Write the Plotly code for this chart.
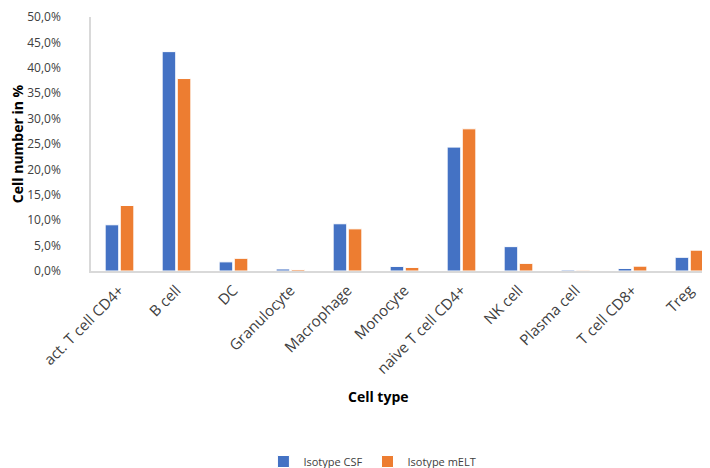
import plotly.graph_objects as go

categories = ["act. T cell CD4+", "B cell", "DC", "Granulocyte", "Macrophage", "Monocyte",
              "naive T cell CD4+", "NK cell", "Plasma cell", "T cell CD8+", "Treg"]
isotype_csf = [9.1, 43.2, 1.8, 0.4, 9.3, 0.9, 24.4, 4.8, 0.2, 0.5, 2.7]
isotype_melt = [12.9, 37.9, 2.5, 0.3, 8.3, 0.7, 28.0, 1.5, 0.15, 0.95, 4.1]
y_ticks = [0, 5, 10, 15, 20, 25, 30, 35, 40, 45, 50]
y_tick_labels = ["0,0%", "5,0%", "10,0%", "15,0%", "20,0%", "25,0%",
                 "30,0%", "35,0%", "40,0%", "45,0%", "50,0%"]

font_family = "Open Sans, Liberation Sans, Arial, sans-serif"

fig = go.Figure()
fig.add_trace(go.Bar(x=categories, y=isotype_csf, name="Isotype CSF",
                     marker=dict(color="#4472C4", line=dict(color="white", width=1))))
fig.add_trace(go.Bar(x=categories, y=isotype_melt, name="Isotype mELT",
                     marker=dict(color="#ED7D31", line=dict(color="white", width=1))))

fig.update_layout(
    width=710, height=468,
    margin=dict(l=83, r=0, t=9, b=200),
    paper_bgcolor="white", plot_bgcolor="white",
    barmode="group", bargap=0.47, bargroupgap=0.1,
    font=dict(family=font_family, color="#404040"),
    showlegend=True,
    legend=dict(orientation="h", x=0.275, y=-0.75, xanchor="left", yanchor="middle",
                font=dict(size=11, color="#404040"), itemwidth=30, traceorder="normal"),
    xaxis=dict(showline=True, linecolor="#d9d9d9", linewidth=1.5, showgrid=False,
               tickangle=-45, tickfont=dict(size=15, color="#404040"),
               ticklabelstandoff=3, ticks="", automargin=False),
    yaxis=dict(range=[0, 50.02], tickmode="array", tickvals=y_ticks, ticktext=y_tick_labels,
               showline=True, linecolor="#d9d9d9", linewidth=1.5, showgrid=False,
               zeroline=False, tickfont=dict(size=12, color="#404040"),
               ticklabeloverflow="allow", automargin=False,
               ticks="outside", ticklen=26, tickcolor="rgba(0,0,0,0)",
               title=dict(text="<b>Cell number in %</b>", font=dict(size=14, color="black"),
                          standoff=8)),
    annotations=[dict(text="<b>Cell type</b>", xref="paper", yref="paper",
                      x=0.458, y=-0.495, xanchor="center", yanchor="middle",
                      showarrow=False, font=dict(size=14, color="black", family=font_family))],
)

fig.write_html("out.html")
